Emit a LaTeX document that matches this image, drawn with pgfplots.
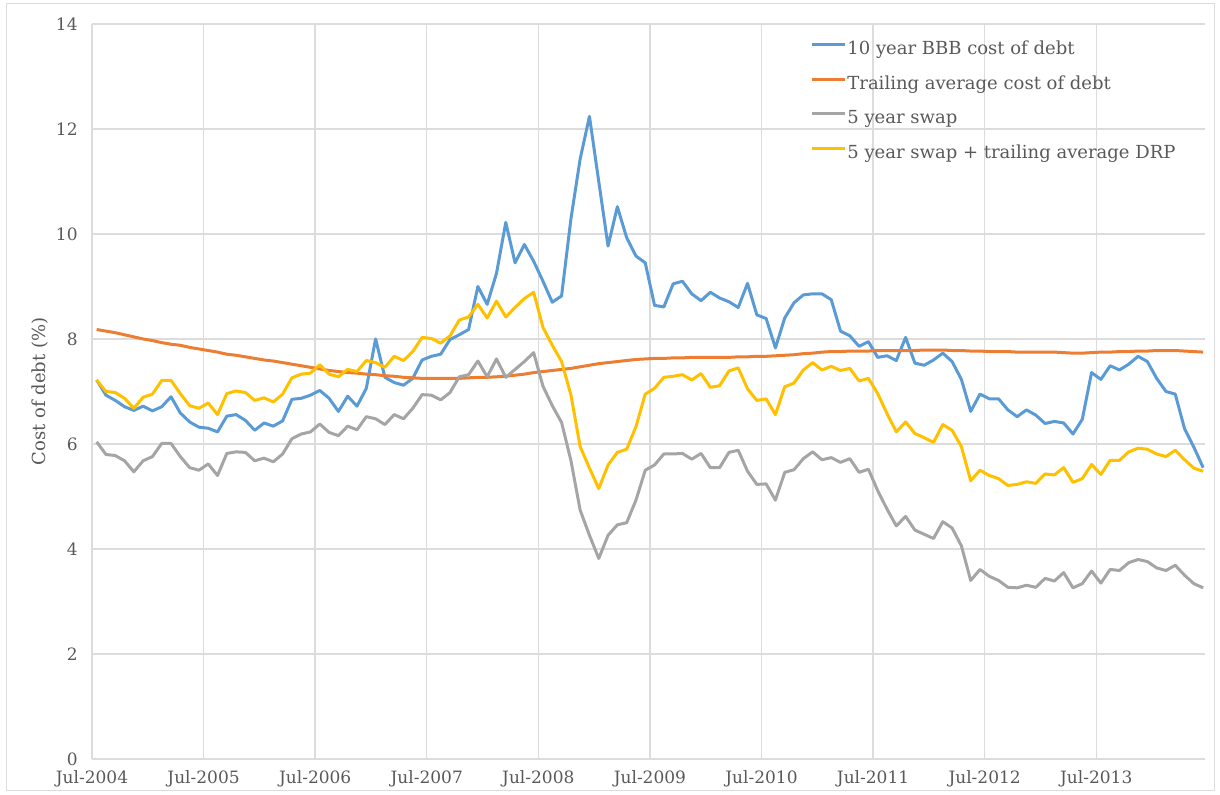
\documentclass[border=0pt]{standalone}
\usepackage{fontspec}
\setmainfont{DejaVu Serif}
\usepackage{pgfplots}
\usepackage{pgfplotstable}
\pgfplotsset{compat=1.18}

\definecolor{cBBB}{HTML}{5B9BD5}
\definecolor{cTrail}{HTML}{ED7D31}
\definecolor{cSwap}{HTML}{A5A5A5}
\definecolor{cDRP}{HTML}{FFC000}
\definecolor{txt}{HTML}{595959}
\definecolor{grd}{HTML}{DCDCDC}

% monthly values, m = months after Jul-2004
\pgfplotstableread{
m bbb trail swap drp
0 7.22 8.18 6.04 7.22
1 6.93 8.15 5.80 7.00
2 6.83 8.12 5.78 6.98
3 6.71 8.08 5.68 6.87
4 6.64 8.04 5.47 6.68
5 6.72 8.00 5.68 6.89
6 6.63 7.97 5.76 6.95
7 6.71 7.93 6.01 7.21
8 6.90 7.90 6.01 7.21
9 6.59 7.88 5.76 6.96
10 6.42 7.84 5.55 6.73
11 6.32 7.81 5.50 6.68
12 6.30 7.78 5.62 6.78
13 6.23 7.75 5.40 6.56
14 6.53 7.71 5.82 6.96
15 6.56 7.69 5.85 7.01
16 6.45 7.66 5.84 6.98
17 6.26 7.63 5.68 6.83
18 6.40 7.60 5.73 6.88
19 6.34 7.58 5.66 6.80
20 6.44 7.55 5.81 6.95
21 6.85 7.52 6.10 7.26
22 6.87 7.49 6.19 7.33
23 6.93 7.46 6.23 7.35
24 7.02 7.43 6.38 7.51
25 6.87 7.40 6.22 7.33
26 6.62 7.38 6.16 7.28
27 6.91 7.36 6.34 7.42
28 6.72 7.35 6.27 7.38
29 7.06 7.33 6.52 7.59
30 8.00 7.32 6.48 7.55
31 7.27 7.30 6.37 7.46
32 7.17 7.29 6.56 7.67
33 7.12 7.27 6.48 7.59
34 7.25 7.26 6.68 7.76
35 7.60 7.25 6.94 8.03
36 7.67 7.25 6.93 8.01
37 7.71 7.25 6.84 7.92
38 7.99 7.25 6.98 8.06
39 8.08 7.25 7.28 8.36
40 8.18 7.26 7.32 8.42
41 9.00 7.27 7.58 8.66
42 8.66 7.27 7.28 8.40
43 9.25 7.28 7.62 8.72
44 10.22 7.29 7.27 8.42
45 9.45 7.31 7.42 8.60
46 9.80 7.33 7.57 8.77
47 9.48 7.36 7.74 8.89
48 9.10 7.38 7.10 8.22
49 8.70 7.40 6.73 7.88
50 8.82 7.42 6.41 7.57
51 10.28 7.44 5.69 6.94
52 11.43 7.47 4.74 5.95
53 12.24 7.50 4.26 5.54
54 11.00 7.53 3.82 5.15
55 9.77 7.55 4.26 5.60
56 10.52 7.57 4.46 5.84
57 9.93 7.59 4.50 5.90
58 9.58 7.61 4.93 6.33
59 9.45 7.62 5.50 6.95
60 8.64 7.63 5.60 7.06
61 8.61 7.63 5.81 7.27
62 9.05 7.64 5.81 7.29
63 9.10 7.64 5.82 7.32
64 8.86 7.65 5.71 7.22
65 8.73 7.65 5.82 7.34
66 8.89 7.65 5.55 7.08
67 8.78 7.65 5.55 7.11
68 8.71 7.65 5.84 7.39
69 8.60 7.66 5.88 7.45
70 9.06 7.66 5.48 7.05
71 8.46 7.67 5.23 6.83
72 8.39 7.67 5.24 6.86
73 7.83 7.68 4.93 6.56
74 8.40 7.69 5.46 7.09
75 8.69 7.70 5.51 7.16
76 8.84 7.72 5.72 7.41
77 8.86 7.73 5.85 7.55
78 8.86 7.75 5.70 7.41
79 8.75 7.76 5.74 7.48
80 8.15 7.76 5.65 7.40
81 8.06 7.77 5.72 7.44
82 7.86 7.77 5.46 7.20
83 7.95 7.77 5.52 7.25
84 7.65 7.78 5.11 6.96
85 7.68 7.78 4.76 6.58
86 7.59 7.78 4.44 6.23
87 8.03 7.78 4.62 6.42
88 7.54 7.78 4.36 6.20
89 7.50 7.79 4.28 6.12
90 7.60 7.79 4.20 6.03
91 7.73 7.79 4.52 6.37
92 7.57 7.78 4.40 6.26
93 7.23 7.78 4.06 5.95
94 6.62 7.77 3.40 5.30
95 6.95 7.77 3.61 5.50
96 6.86 7.76 3.48 5.40
97 6.86 7.76 3.40 5.34
98 6.65 7.76 3.27 5.21
99 6.52 7.75 3.26 5.23
100 6.65 7.75 3.31 5.28
101 6.55 7.75 3.27 5.25
102 6.39 7.75 3.44 5.43
103 6.43 7.75 3.39 5.41
104 6.40 7.74 3.55 5.55
105 6.19 7.73 3.26 5.27
106 6.47 7.73 3.34 5.34
107 7.36 7.74 3.58 5.61
108 7.23 7.75 3.35 5.42
109 7.49 7.75 3.61 5.69
110 7.41 7.76 3.59 5.69
111 7.52 7.76 3.74 5.85
112 7.67 7.77 3.80 5.92
113 7.57 7.77 3.76 5.90
114 7.25 7.78 3.64 5.81
115 7.00 7.78 3.59 5.76
116 6.95 7.78 3.69 5.88
117 6.29 7.77 3.50 5.70
118 5.94 7.76 3.34 5.54
119 5.55 7.75 3.26 5.48
}\costdata

\begin{document}
\begin{tikzpicture}
\useasboundingbox (0,0) rectangle (610pt,397.5pt);
\draw[grd, line width=0.5pt] (3pt,2pt) rectangle (607pt,395.5pt);
\begin{axis}[
    at={(46pt,18pt)}, anchor=south west,
    scale only axis, width=556.5pt, height=367.5pt,
    xmin=0, xmax=119.7, ymin=0, ymax=14,
    xtick={0,12,...,108},
    xticklabels={Jul-2004,Jul-2005,Jul-2006,Jul-2007,Jul-2008,Jul-2009,Jul-2010,Jul-2011,Jul-2012,Jul-2013},
    ytick={0,2,...,14},
    grid=major, grid style={grd, line width=0.7pt},
    axis line style={draw=none},
    major tick length=0pt,
    tick label style={font=\fontsize{8.5}{10}\selectfont, text=txt},
    yticklabel style={inner sep=0pt, xshift=-7pt},
    xticklabel style={inner sep=0pt, yshift=-5.5pt},
    /pgf/number format/assume math mode=true,
    ylabel={Cost of debt (\%)},
    ylabel style={at={(axis description cs:-0.0467,0.5)}, anchor=center,
        font=\fontsize{9}{11}\selectfont, text=txt},
    legend style={at={(0.6451,0.9775)}, anchor=north west, draw=none, fill=none,
        inner sep=0pt, row sep=8.2pt, column sep=0.5pt,
        font=\fontsize{9}{11}\selectfont, text=txt,
        nodes={inner sep=0pt, text height=7pt, text depth=2pt}},
    legend cell align=left,
    legend image code/.code={\draw[#1, line width=1.5pt] (0pt,2.5pt) -- (16.5pt,2.5pt);},
    every axis plot/.append style={line width=1.5pt, line join=round, no markers},
]
\addplot[cBBB] table[x expr=\thisrow{m}+0.5, y=bbb] {\costdata};
\addlegendentry{10 year BBB cost of debt}
\addplot[cTrail] table[x expr=\thisrow{m}+0.5, y=trail] {\costdata};
\addlegendentry{Trailing average cost of debt}
\addplot[cSwap] table[x expr=\thisrow{m}+0.5, y=swap] {\costdata};
\addlegendentry{5 year swap}
\addplot[cDRP] table[x expr=\thisrow{m}+0.5, y=drp] {\costdata};
\addlegendentry{5 year swap + trailing average DRP}
\end{axis}
\end{tikzpicture}
\end{document}
